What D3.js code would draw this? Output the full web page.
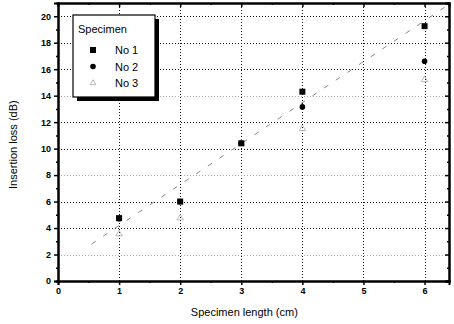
<!DOCTYPE html>
<html>
<head>
<meta charset="utf-8">
<script src="https://cdn.jsdelivr.net/npm/d3@7"></script>
<style>
  body { margin: 0; background: #fff; }
  text { font-family: "Liberation Sans", Arial, sans-serif; }
</style>
</head>
<body>
<div id="chart"></div>
<script>
const width = 454
    height = 324
    margin = {top: 3, right: 5, bottom: 43, left: 58};

// specimen lengths (cm)
const lengths = [1, 2, 3, 4, 6];
// insertion loss (dB) per specimen
const no1 = [4.75, 6.0, 10.4, 14.3, 19.25];
const no2 = [4.7, 6.0, 10.4, 13.15, 16.6];
const no3 = [3.55, 4.75, 10.4, 11.5, 15.2];
// linear fit end points
const fitX = [0.55, 6.4];
const fitY = [2.8, 20.9];

const xTicks = [0, 1, 2, 3, 4, 5, 6];
const yTicks = [0, 2, 4, 6, 8, 10, 12, 14, 16, 18, 20];

let svg = d3.select("div#chart").append("svg")
    .attr("width", width)
    .attr("height", height);

let x = d3.scaleLinear()
    .domain([0, 6.4])
    .range([margin.left, width - margin.right]);

let y = d3.scaleLinear()
    .domain([0, 21])
    .range([height - margin.bottom, margin.top]);

const px = v => Math.round(v) + 0.5;

// grid
svg.append("g").selectAll("line")
    .data(xTicks.slice(1))
    .join("line")
    .attr("x1", d => px(x(d))).attr("x2", d => px(x(d)))
    .attr("y1", y(0)).attr("y2", y(21))
    .attr("stroke", "#111")
    .attr("stroke-width", 1)
    .attr("stroke-dasharray", "1,2")
    .attr("shape-rendering", "crispEdges");

svg.append("g").selectAll("line")
    .data(yTicks.slice(1))
    .join("line")
    .attr("x1", x(0)).attr("x2", x(6.4))
    .attr("y1", d => px(y(d))).attr("y2", d => px(y(d)))
    .attr("stroke", d => (d == 2 || d == 8 || d == 14) ? "#aaa" : "#111")
    .attr("stroke-width", 1)
    .attr("stroke-dasharray", "1,2")
    .attr("shape-rendering", "crispEdges");

// axes
let xAxis = d3.axisBottom(x).tickValues(xTicks).tickSize(4).tickFormat(d3.format("d"));
let xMinor = d3.axisBottom(x).tickValues(d3.range(0.5, 6.4, 1)).tickSize(2).tickFormat("");
let yAxis = d3.axisLeft(y).tickValues(yTicks).tickSize(4).tickFormat(d3.format("d"));
let yMinor = d3.axisLeft(y).tickValues(d3.range(1, 21, 2)).tickSize(2).tickFormat("");

svg.append("g").attr("class", "axis")
    .attr("transform", `translate(0,${y(0)})`)
    .call(xAxis);
svg.append("g").attr("class", "axis")
    .attr("transform", `translate(0,${y(0)})`)
    .call(xMinor);
svg.append("g").attr("class", "axis")
    .attr("transform", `translate(${x(0)},0)`)
    .call(yAxis);
svg.append("g").attr("class", "axis")
    .attr("transform", `translate(${x(0)},0)`)
    .call(yMinor);

// mirrored axes (top/right) with inward ticks
svg.append("g").attr("class", "axis")
    .attr("transform", `translate(0,${y(21)})`)
    .call(d3.axisBottom(x).tickValues(xTicks).tickSize(4).tickFormat(""));
svg.append("g").attr("class", "axis")
    .attr("transform", `translate(0,${y(21)})`)
    .call(d3.axisBottom(x).tickValues(d3.range(0.5, 6.4, 1)).tickSize(2).tickFormat(""));
svg.append("g").attr("class", "axis")
    .attr("transform", `translate(${x(6.4)},0)`)
    .call(d3.axisLeft(y).tickValues(yTicks).tickSize(4).tickFormat(""));
svg.append("g").attr("class", "axis")
    .attr("transform", `translate(${x(6.4)},0)`)
    .call(d3.axisLeft(y).tickValues(d3.range(1, 21, 2)).tickSize(2).tickFormat(""));

svg.selectAll(".axis path").attr("stroke", "#000").attr("stroke-width", 2);
svg.selectAll(".axis line").attr("stroke", "#000").attr("stroke-width", 1.5);
svg.selectAll(".axis text")
    .attr("font-size", 9)
    .attr("font-weight", "bold")
    .attr("fill", "#000")
    .style("font-family", "Liberation Sans, Arial, sans-serif");

// axis titles
svg.append("text")
    .attr("x", x(3.05))
    .attr("y", 316)
    .attr("text-anchor", "middle")
    .attr("font-size", 11)
    .text("Specimen length (cm)");

svg.append("text")
    .attr("transform", `translate(17,${y(10.3)}) rotate(-90)`)
    .attr("text-anchor", "middle")
    .attr("font-size", 11)
    .text("Insertion loss (dB)");

// fit line
svg.append("line")
    .attr("x1", x(fitX[0])).attr("y1", y(fitY[0]))
    .attr("x2", x(fitX[1])).attr("y2", y(fitY[1]))
    .attr("stroke", "#888")
    .attr("stroke-width", 1)
    .attr("stroke-dasharray", "5,9");

// data points
svg.append("g").selectAll("path")
    .data(lengths.map((d, i) => [d, no3[i]]))
    .join("path")
    .attr("d", d3.symbol(d3.symbolTriangle, 18))
    .attr("transform", d => `translate(${x(d[0])},${y(d[1])})`)
    .attr("fill", "none")
    .attr("stroke", "#aaa")
    .attr("stroke-width", 0.8);

svg.append("g").selectAll("circle")
    .data(lengths.map((d, i) => [d, no2[i]]))
    .join("circle")
    .attr("cx", d => x(d[0]))
    .attr("cy", d => y(d[1]))
    .attr("r", 2.8)
    .attr("fill", "#000");

svg.append("g").selectAll("rect")
    .data(lengths.map((d, i) => [d, no1[i]]))
    .join("rect")
    .attr("x", d => x(d[0]) - 3)
    .attr("y", d => y(d[1]) - 3)
    .attr("width", 6)
    .attr("height", 6)
    .attr("fill", "#000");

// legend
let legend = svg.append("g").attr("transform", "translate(73,15)");
legend.append("rect")
    .attr("x", 4).attr("y", 4)
    .attr("width", 82).attr("height", 82)
    .attr("fill", "#000");
legend.append("rect")
    .attr("width", 82).attr("height", 82)
    .attr("fill", "#fff")
    .attr("stroke", "#000")
    .attr("stroke-width", 1.2);
legend.append("text")
    .attr("x", 5).attr("y", 18)
    .attr("font-size", 11)
    .text("Specimen");

const legendItems = ["No 1", "No 2", "No 3"];
legendItems.forEach((label, i) => {
    let cy = 35 + i * 16.5;
    if (i == 0) {
        legend.append("rect").attr("x", 17).attr("y", cy - 3).attr("width", 6).attr("height", 6).attr("fill", "#000");
    } else if (i == 1) {
        legend.append("circle").attr("cx", 20).attr("cy", cy).attr("r", 2.8).attr("fill", "#000");
    } else {
        legend.append("path")
            .attr("d", d3.symbol(d3.symbolTriangle, 14))
            .attr("transform", `translate(20,${cy})`)
            .attr("fill", "none").attr("stroke", "#aaa").attr("stroke-width", 0.8);
    }
    legend.append("text")
        .attr("x", 42).attr("y", cy + 4)
        .attr("font-size", 11)
        .text(label);
});
</script>
</body>
</html>
